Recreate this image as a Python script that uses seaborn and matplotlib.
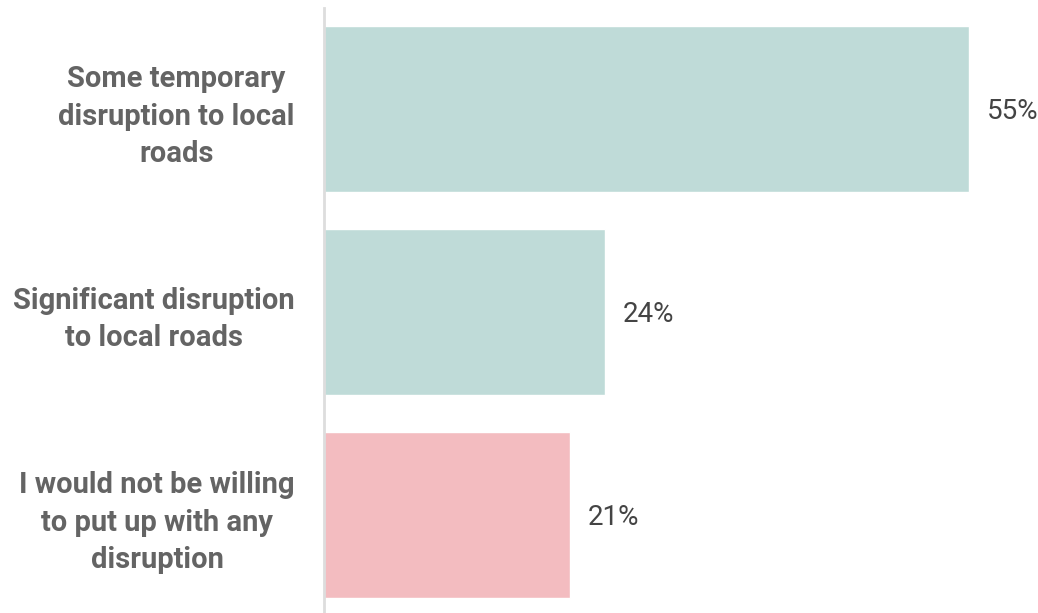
import matplotlib
matplotlib.use("Agg")
import matplotlib.pyplot as plt
import seaborn as sns
import pandas as pd

categories = [
    "Some temporary\ndisruption to local\nroads",
    "Significant disruption\nto local roads",
    "I would not be willing\nto put up with any\ndisruption",
]
values = [55, 24, 21]
colors = ["#bfdbd8", "#bfdbd8", "#f3bcc0"]

sns.set_theme(style="white")
plt.rcParams["font.family"] = ["Roboto", "DejaVu Sans"]

df = pd.DataFrame({"label": categories, "value": values})

fig = plt.figure(figsize=(10.38, 6.13), dpi=100)
ax = fig.add_axes([324 / 1038, 0, 714 / 1038, 1 - 8 / 613])

sns.barplot(data=df, x="value", y="label", hue="label", palette=colors,
            width=0.818, legend=False, ax=ax, saturation=1)

ax.set_xlim(0, 714 / 11.727)
ax.set_ylim(2.483, -0.4975)

# value labels to the right of the bars
for i, v in enumerate(values):
    ax.text(v + 1.5, i + 0.012, f"{v}%", va="center", ha="left",
            fontsize=20, color="#444444")

ax.set_xlabel("")
ax.set_ylabel("")
ax.set_xticks([])
ax.set_yticks(range(len(categories)))
ax.set_yticklabels(categories, fontsize=21, fontweight="bold",
                   color="#646464", ha="right", multialignment="center",
                   linespacing=1.42)
ax.tick_params(axis="y", length=0, pad=21)

for s in ["top", "right", "bottom"]:
    ax.spines[s].set_visible(False)
ax.spines["left"].set_color("#dddddd")
ax.spines["left"].set_linewidth(2)

fig.savefig("out.png", dpi=100)
